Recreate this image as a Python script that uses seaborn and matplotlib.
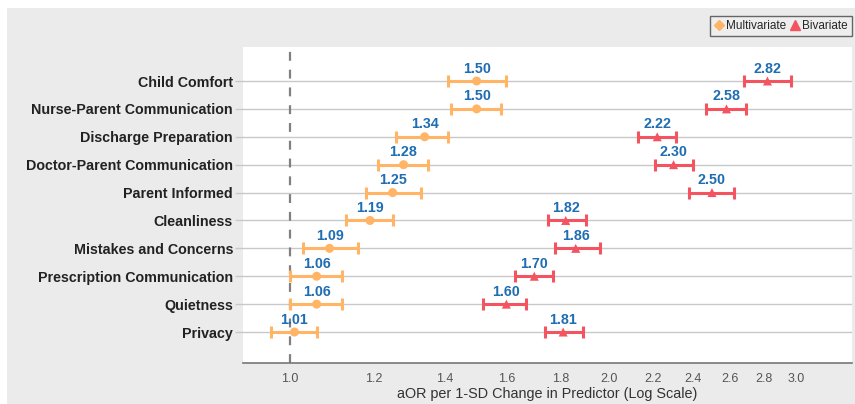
import numpy as np
import pandas as pd
import matplotlib
matplotlib.use("Agg")
import matplotlib.pyplot as plt
import matplotlib.patches as mpatches
from matplotlib.lines import Line2D
import seaborn as sns

C_MULTI = "#FFB466"
C_BIV = "#F4545F"
C_LABEL = "#1F6DB3"
C_PANEL = "#EBEBEB"

labels = ["Child Comfort", "Nurse-Parent Communication", "Discharge Preparation",
          "Doctor-Parent Communication", "Parent Informed", "Cleanliness",
          "Mistakes and Concerns", "Prescription Communication", "Quietness", "Privacy"]
multi_or = [1.50, 1.50, 1.34, 1.28, 1.25, 1.19, 1.09, 1.06, 1.06, 1.01]
multi_lo = [1.41, 1.42, 1.26, 1.21, 1.18, 1.13, 1.03, 1.00, 1.00, 0.96]
multi_hi = [1.60, 1.58, 1.41, 1.35, 1.33, 1.25, 1.16, 1.12, 1.12, 1.06]
biv_or = [2.82, 2.58, 2.22, 2.30, 2.50, 1.82, 1.86, 1.70, 1.60, 1.81]
biv_lo = [2.68, 2.47, 2.13, 2.21, 2.38, 1.75, 1.78, 1.63, 1.52, 1.74]
biv_hi = [2.97, 2.69, 2.31, 2.40, 2.62, 1.90, 1.96, 1.77, 1.67, 1.89]
xticks = [1.0, 1.2, 1.4, 1.6, 1.8, 2.0, 2.2, 2.4, 2.6, 2.8, 3.0]

sns.set_theme(style="white")
plt.rcParams["font.family"] = ["Liberation Sans", "DejaVu Sans"]

df = pd.DataFrame({
    "row": list(range(len(labels))) * 2,
    "aor": multi_or + biv_or,
    "lo": multi_lo + biv_lo,
    "hi": multi_hi + biv_hi,
    "model": ["Multivariate"] * len(labels) + ["Bivariate"] * len(labels),
})

fig = plt.figure(figsize=(8.55, 4.04), dpi=100, facecolor="white")
fig.patches.append(mpatches.Rectangle((7 / 855, 0), 1, 1 - 8 / 404, transform=fig.transFigure,
                                      facecolor=C_PANEL, edgecolor="none", zorder=-10))
ax = fig.add_axes([0.284, 0.1015, 0.7125, 0.7822])
ax.set_facecolor("white")
ax.set_xscale("log")

# row gridlines + reference line
for r in range(len(labels)):
    ax.axhline(r, color="#C8C8C8", lw=1, zorder=0)
ax.axvline(1.0, color="#808080", ls=(0, (4, 4)), lw=1.6, zorder=1)

palette = {"Multivariate": C_MULTI, "Bivariate": C_BIV}
for model, grp in df.groupby("model"):
    ax.errorbar(grp["aor"], grp["row"],
                xerr=[grp["aor"] - grp["lo"], grp["hi"] - grp["aor"]],
                fmt="none", ecolor=palette[model], elinewidth=2.2,
                capsize=4.0, capthick=2.2, zorder=2)

sns.scatterplot(data=df, x="aor", y="row", hue="model", style="model",
                markers={"Multivariate": "o", "Bivariate": "^"},
                palette=palette, s=42, edgecolor="none", ax=ax, zorder=3, legend=False)

for _, r in df.iterrows():
    ax.annotate(f"{r['aor']:.2f}", (r["aor"], r["row"]), xytext=(0, 9),
                textcoords="offset points", ha="center", va="center",
                color=C_LABEL, fontsize=10.3, fontweight="bold", zorder=4)

ax.set_xlim(0.903, 3.388)
ax.set_ylim(10.11, -1.22)
ax.set_yticks(range(len(labels)))
ax.set_yticklabels(labels, fontsize=10.3, fontweight="bold", color="#222222")
ax.set_xticks(xticks)
ax.set_xticklabels([f"{t:.1f}" for t in xticks], fontsize=9, color="#555555")
ax.xaxis.set_minor_locator(matplotlib.ticker.NullLocator())
ax.tick_params(axis="x", direction="in", length=5, width=1, color="#555555", pad=7)
ax.tick_params(axis="y", direction="out", length=6, width=1, color="#C8C8C8", pad=1, left=True)
ax.set_xlabel("aOR per 1-SD Change in Predictor (Log Scale)", fontsize=10.4, color="#333333", labelpad=2)
ax.set_ylabel("")
for s in ["top", "right", "left"]:
    ax.spines[s].set_visible(False)
ax.spines["bottom"].set_color("#777777")
ax.spines["bottom"].set_linewidth(1.2)

handles = [Line2D([], [], marker="D", color=C_MULTI, ls="none", markersize=5.5, label="Multivariate"),
           Line2D([], [], marker="^", color=C_BIV, ls="none", markersize=6.5, label="Bivariate")]
leg = fig.legend(handles=handles, loc="upper right", bbox_to_anchor=(852 / 855, 1 - 16 / 404),
                 ncol=2, fontsize=8.5, frameon=True, fancybox=False, handlelength=0.8,
                 handletextpad=0.2, columnspacing=0.4, borderpad=0.35, borderaxespad=0)
leg.get_frame().set_edgecolor("#444444")
leg.get_frame().set_facecolor("#F0F0F0")
leg.get_frame().set_linewidth(1.0)

fig.savefig("out.png", dpi=100, facecolor="white")
